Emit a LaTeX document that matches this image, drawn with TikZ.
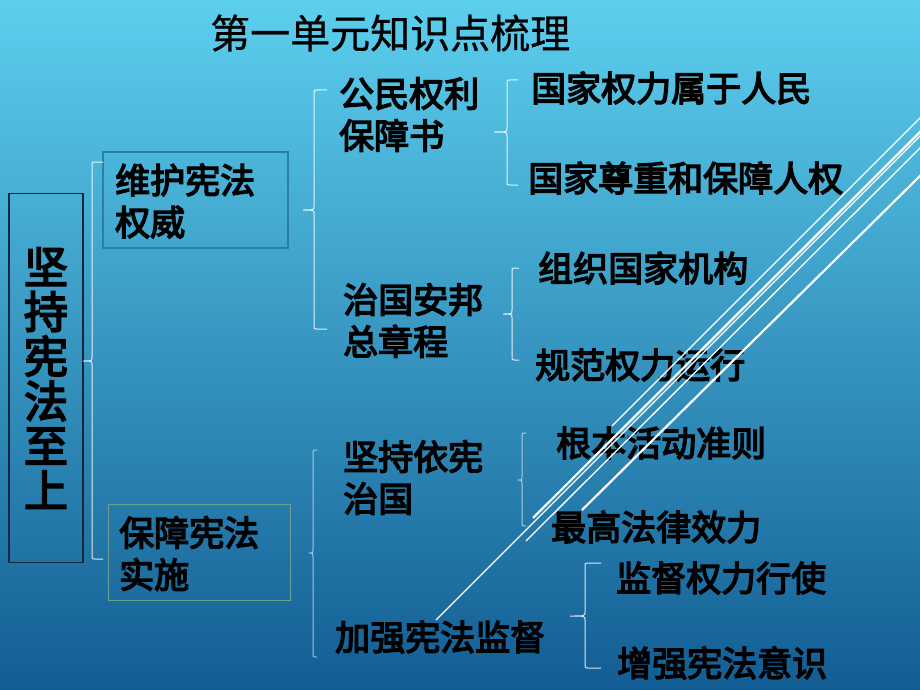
\documentclass[tikz,border=0pt]{standalone}
\usepackage{fontspec}
\newfontfamily\cjk{Noto Sans CJK SC}[FakeBold=0.6]
\newfontfamily\cjkb{Noto Sans CJK SC}[FakeBold=4]
\definecolor{bgtop}{HTML}{5CCFEE}
\definecolor{bgmid}{HTML}{3699C8}
\definecolor{bgbot}{HTML}{125D94}
\definecolor{mainedge}{HTML}{15293A}
\definecolor{boxedgeA}{HTML}{2B7FA3}
\definecolor{boxedgeB}{HTML}{6F9E93}
\tikzset{
  lbl/.style={font=\cjkb\fontsize{35}{42}\selectfont, anchor=west, inner sep=0pt, align=left, text=black},
  brc/.style={draw=white, draw opacity=0.85, line width=1pt},
  brcfaint/.style={draw=white, draw opacity=0.6, line width=1pt},
  diagthin/.style={draw=white, line width=1.3pt},
  diagthick/.style={draw=white, line width=2.2pt},
}
% #1 x, #2 top, #3 mid, #4 bottom, #5 tip x, #6 hook x, #7 style
\newcommand\mybrc[7]{%
  \draw[#7] (#6,#2) -- (#1+3,#2) .. controls (#1,#2) .. (#1,#2+3) -- (#1,#3-4)
    .. controls (#1,#3) .. (#5,#3) .. controls (#1,#3) .. (#1,#3+4) -- (#1,#4-3)
    .. controls (#1,#4) .. (#1+3,#4) -- (#6,#4);}
\begin{document}
\begin{tikzpicture}[x=1pt,y=-1pt]
\useasboundingbox (0,0) rectangle (920,690);
\fill[top color=bgtop, middle color=bgmid, bottom color=bgbot] (0,0) rectangle (920,690);

% title
\node[font=\cjk\fontsize{40}{40}\selectfont, anchor=west, inner sep=0pt] (title) at (210,33) {第一单元知识点梳理};

% main box
\node[draw=mainedge, line width=1.5pt, minimum width=74, minimum height=369, inner sep=0pt,
      font=\cjkb\fontsize{44}{44.7}\selectfont, align=center] (main) at (46,378) {坚\\持\\宪\\法\\至\\上};

% second-level boxes
\node[draw=boxedgeA, line width=2pt, minimum width=185, minimum height=96, inner sep=0pt] (boxA) at (195,200) {};
\node[lbl] (tA) at (115,201) {维护宪法\\权威};
\node[draw=boxedgeB, line width=1pt, minimum width=182, minimum height=96, inner sep=0pt] (boxB) at (199,552) {};
\node[lbl] (tB) at (119,553.5) {保障宪法\\实施};

% third level
\node[lbl] (c1) at (339,114.5) {公民权利\\保障书};
\node[lbl] (c2) at (343,320.5) {治国安邦\\总章程};
\node[lbl] (c3) at (343,477.5) {坚持依宪\\治国};
\node[lbl] (c4) at (335,637) {加强宪法监督};

% fourth level
\node[lbl] (d1) at (531,88) {国家权力属于人民};
\node[lbl] (d2) at (528,178) {国家尊重和保障人权};
\node[lbl] (d3) at (538,268) {组织国家机构};
\node[lbl] (d4) at (535,365) {规范权力运行};
\node[lbl] (d5) at (556,443) {根本活动准则};
\node[lbl] (d6) at (551,527) {最高法律效力};
\node[lbl] (d7) at (616,578) {监督权力行使};
\node[lbl] (d8) at (617,663) {增强宪法意识};

% braces
\mybrc{92}{162}{361}{559}{83}{103}{brc}
\mybrc{314}{90}{210}{329}{303}{327}{brc}
\mybrc{507}{80}{132}{185}{494}{518}{brc}
\mybrc{512}{268}{314}{360}{503}{519}{brc}
\mybrc{313}{450}{553}{657}{309}{317}{brcfaint}
\mybrc{522}{433}{480}{526}{518}{526}{brcfaint}
\mybrc{585}{563}{616}{668}{570}{601}{brc}

% diagonal decorative lines
\draw[diagthin] (925,113) -- (612,426);
\draw[diagthick] (925,127) -- (533,518);
\draw[diagthin] (925,131) -- (436,620);
\draw[diagthin] (925,143) -- (526,541);
\draw[diagthick] (925,171) -- (582,510);
\end{tikzpicture}
\end{document}
